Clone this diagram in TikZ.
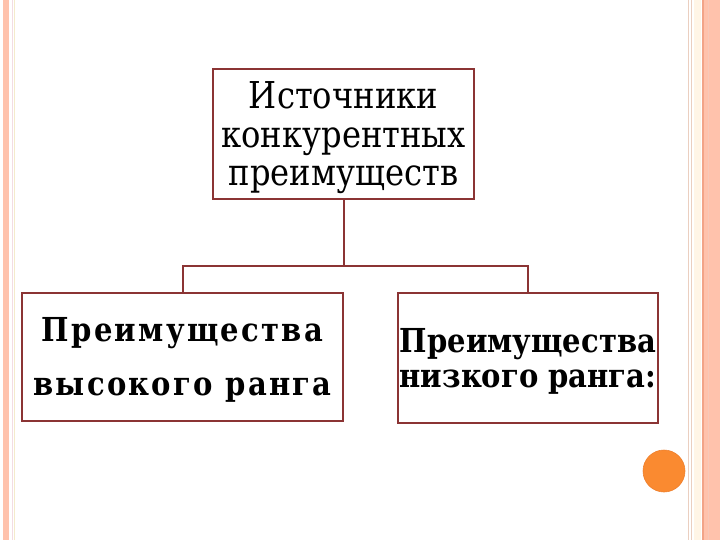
\documentclass[tikz,border=0pt]{standalone}
\usepackage{fontspec}
\setmainfont{DejaVu Serif}
\definecolor{boxred}{HTML}{8B3434}
\definecolor{salmon}{HTML}{FFC2AC}
\definecolor{salmonline}{HTML}{F2A488}
\definecolor{tanline}{HTML}{EBCFC0}
\definecolor{cream}{HTML}{FFF5E6}
\definecolor{pinkline}{HTML}{F3DCE2}
\definecolor{yelline}{HTML}{F4EBCB}
\definecolor{dot}{HTML}{FA8A30}
\definecolor{dotedge}{HTML}{EE7F2C}
\tikzset{
  box/.style={draw=boxred, line width=2pt, fill=white, inner sep=0pt},
  txt/.style={inner sep=0pt, align=center},
  conn/.style={draw=boxred, line width=2pt}
}
\begin{document}
\begin{tikzpicture}[x=1pt,y=-1pt]
\useasboundingbox (0,0) rectangle (720,540);
\fill[white] (0,0) rectangle (720,540);
% left border
\fill[salmon] (3.3,0) rectangle (9.4,540);
\draw[pinkline, line width=1pt] (12,0) -- (12,540);
\draw[yelline, line width=1pt] (14.7,0) -- (14.7,540);
% right border
\draw[tanline, line width=1pt] (688.8,0) -- (688.8,540);
\draw[tanline, line width=1pt] (691.3,0) -- (691.3,540);
\fill[cream] (694,0) rectangle (700.5,540);
\fill[salmon] (703,0) rectangle (720,540);
\draw[salmonline, line width=1.6pt] (702.8,0) -- (702.8,540);
\draw[salmonline!60, line width=0.8pt] (708,0) -- (708,540);
% dot
\fill[dot, draw=dotedge, line width=0.6pt] (664,471) circle (21);
% boxes
\node[box, minimum width=261, minimum height=130] (top) at (343.5,134) {};
\node[txt, font=\fontsize{37}{38.5}\selectfont\addfontfeature{FakeStretch=0.87}]
  (toptext) at ([yshift=-4pt]top.center) {Источники\\конкурентных\\преимуществ};
\node[box, minimum width=321, minimum height=128] (left) at (182.5,357) {};
\node[txt, font=\fontsize{33}{54}\selectfont\bfseries\addfontfeature{FakeStretch=0.88,LetterSpace=7}]
  (lefttext) at ([yshift=-3pt]left.center) {Преимущества\\высокого ранга};
\node[box, minimum width=260, minimum height=130] (right) at (528,358) {};
\node[txt, font=\fontsize{33}{35}\selectfont\bfseries\addfontfeature{FakeStretch=0.88}]
  (righttext) at ([yshift=-3pt]right.center) {Преимущества\\низкого ранга:};
% connectors
\draw[conn] (top.south) -- ++(0,66) coordinate (j);
\draw[conn] (left.north) |- (j) -| (right.north);
\end{tikzpicture}
\end{document}
